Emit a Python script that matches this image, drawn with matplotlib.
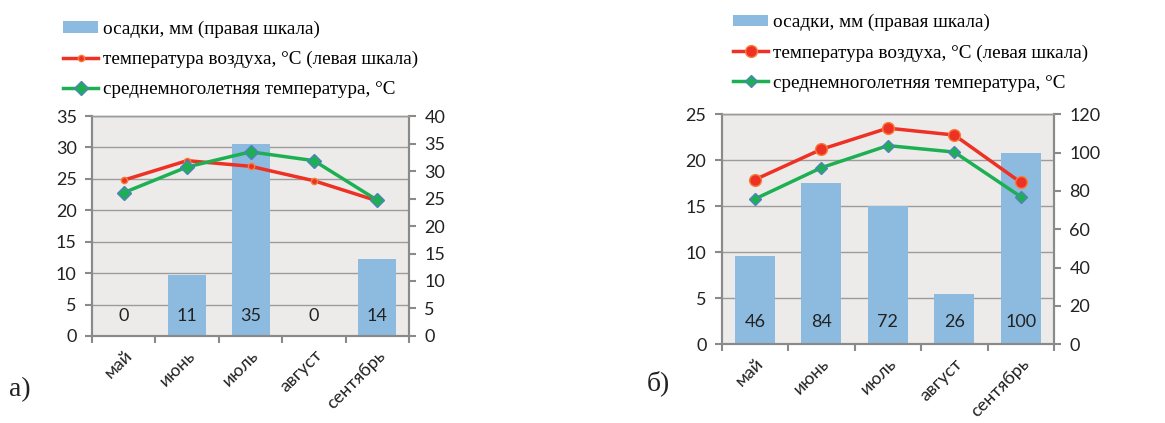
import matplotlib
matplotlib.use("Agg")
import matplotlib.pyplot as plt
from matplotlib.patches import Patch
from matplotlib.lines import Line2D
import numpy as np

months = ["май", "июнь", "июль", "август", "сентябрь"]

# panel a)
precip_a = [0, 11, 35, 0, 14]
temp_a = [24.8, 27.9, 27.0, 24.7, 21.5]
norm_a = [22.8, 26.9, 29.3, 27.9, 21.6]

# panel b)
precip_b = [46, 84, 72, 26, 100]
temp_b = [17.9, 21.2, 23.5, 22.75, 17.6]
norm_b = [15.8, 19.2, 21.6, 20.9, 16.05]

legend_labels = ["осадки, мм (правая шкала)",
                 "температура воздуха, °С (левая шкала)",
                 "среднемноголетняя температура, °С"]

BAR = "#8DBBE0"
RED = "#EE3124"
GREEN = "#1DB052"
BG = "#ECEBEA"
SPINE = "#8A8A8A"
GRID = "#9C9C9C"
TXT = "#222222"
SANS = "Lato"
SERIF = "Liberation Serif"

fig = plt.figure(figsize=(11.65, 4.23), dpi=100)


def panel(rect, precip, temp, norm, lmax, lstep, rmax, rstep, red_ms, green_ms, lab_y, leg_anchor, letter, letter_pos):
    ax = fig.add_axes(rect)
    ax.set_facecolor(BG)
    x = np.arange(len(months))
    ax2 = ax.twinx()
    ax2.set_zorder(ax.get_zorder() - 1)
    ax.patch.set_visible(False)
    ax2.set_facecolor(BG)
    ax2.patch.set_visible(True)
    ax2.bar(x, precip, width=0.6, color=BAR, zorder=2)
    ax2.set_ylim(0, rmax)
    ax2.set_yticks(np.arange(0, rmax + 0.1, rstep))
    ax.set_ylim(0, lmax)
    ax.set_yticks(np.arange(0, lmax + 0.1, lstep))
    ax.set_xlim(-0.5, len(months) - 0.5)
    # gridlines on left scale
    for v in np.arange(lstep, lmax + 0.1, lstep):
        ax2.axhline(v * rmax / lmax, color=GRID, lw=1.0, zorder=1)
    for i, p in enumerate(precip):
        ax.text(x[i], lab_y, str(p), ha="center", va="center", fontsize=13,
                family=SANS, color=TXT, zorder=5)
    ax.plot(x, temp, color=RED, lw=2.5, marker="o", ms=red_ms,
            mfc=RED, mec="#F57F3A", mew=1, zorder=4)
    ax.plot(x, norm, color=GREEN, lw=2.5, marker="D", ms=green_ms,
            mfc=GREEN, mec="#4F81BD", mew=1, zorder=4)
    ax.set_xticks(np.arange(-0.5, len(months), 1.0))
    ax.set_xticklabels([""] * (len(months) + 1))
    ax.set_xticks(x, minor=True)
    ax.set_xticklabels(months, minor=True, rotation=45, ha="right",
                       rotation_mode="anchor", fontsize=13, family=SANS, color=TXT)
    ax.tick_params(axis="x", which="minor", length=0, pad=8)
    ax.tick_params(axis="x", which="major", length=5, color=SPINE, width=1.5)
    ax.tick_params(axis="y", length=5, color=SPINE, width=1.5, labelsize=13,
                   labelcolor=TXT, pad=6)
    ax2.tick_params(axis="y", length=5, color=SPINE, width=1.5, labelsize=13,
                    labelcolor=TXT, pad=6)
    for lab in ax.get_yticklabels() + ax2.get_yticklabels():
        lab.set_family(SANS)
    for a in (ax, ax2):
        for s in a.spines.values():
            s.set_color(SPINE)
            s.set_linewidth(1.5)
    ax.spines["top"].set_color(GRID)
    ax.spines["top"].set_linewidth(1.0)
    ax2.spines["top"].set_color(GRID)
    ax2.spines["top"].set_linewidth(1.0)
    handles = [Patch(facecolor=BAR, edgecolor="none"),
               Line2D([], [], color=RED, lw=2.5, marker="o", ms=red_ms, mfc=RED, mec="#F57F3A"),
               Line2D([], [], color=GREEN, lw=2.5, marker="D", ms=green_ms, mfc=GREEN, mec="#4F81BD")]
    fig.legend(handles, legend_labels, loc="upper left", bbox_to_anchor=leg_anchor,
               frameon=False, prop={"family": SERIF, "size": 13.8}, handlelength=1.85,
               handleheight=0.55, handletextpad=0.25, labelspacing=0.68,
               borderaxespad=0, borderpad=0)
    fig.text(letter_pos[0], letter_pos[1], letter, family=SERIF, fontsize=20,
             color=TXT, ha="left", va="center")
    return ax


panel([0.0790, 0.2057, 0.2721, 0.5200], precip_a, temp_a, norm_a, 35, 5, 40, 5,
      4.5, 7.5, 3.2, (0.054, 0.952), "а)", (0.008, 0.078))
panel([0.6195, 0.1860, 0.2852, 0.5437], precip_b, temp_b, norm_b, 25, 5, 120, 20,
      8.5, 6.5, 2.4, (0.629, 0.967), "б)", (0.555, 0.094))

fig.savefig("out.png", dpi=100)
